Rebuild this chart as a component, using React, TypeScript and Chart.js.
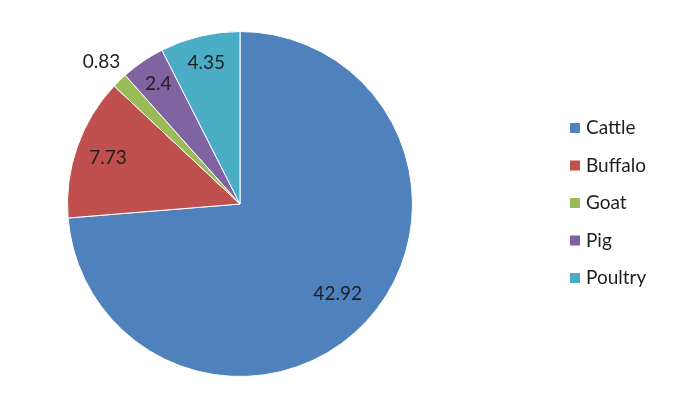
import React, { useEffect, useRef } from "react";
import { Chart, registerables } from "chart.js";

Chart.register(...registerables);

const categories = ["Cattle", "Buffalo", "Goat", "Pig", "Poultry"];
const values = [42.92, 7.73, 0.83, 2.4, 4.35];
const colors = ["#4F81BD", "#C0504D", "#9BBB59", "#8064A2", "#4BACC6"];

const FONT = "Lato, 'Open Sans', sans-serif";
const TEXT_COLOR = "#1f1f1f";

const labelPlugin = {
  id: "sliceLabels",
  afterDatasetsDraw(chart: any) {
    const ctx = chart.ctx;
    const meta = chart.getDatasetMeta(0);
    const data = chart.data.datasets[0].data as number[];
    const total = data.reduce((a, b) => a + b, 0);
    ctx.save();
    ctx.font = `19px ${FONT}`;
    ctx.fillStyle = TEXT_COLOR;
    ctx.textAlign = "center";
    ctx.textBaseline = "middle";
    meta.data.forEach((arc: any, i: number) => {
      const { x, y, startAngle, endAngle, outerRadius } = arc.getProps(
        ["x", "y", "startAngle", "endAngle", "outerRadius"],
        true
      );
      const mid = (startAngle + endAngle) / 2;
      const frac = data[i] / total;
      let f = 0.81;
      if (frac < 0.02) f = 1.15;
      else if (frac > 0.5) f = 0.77;
      else if (frac < 0.1) f = 0.84;
      const r = outerRadius * f;
      ctx.fillText(String(data[i]), x + Math.cos(mid) * r, y + Math.sin(mid) * r);
    });
    ctx.restore();
  },
};

const legendPlugin = {
  id: "customLegend",
  afterDraw(chart: any) {
    const ctx = chart.ctx;
    const labels = chart.data.labels as string[];
    const bg = chart.data.datasets[0].backgroundColor as string[];
    const x0 = 570;
    const y0 = 128;
    const step = 37.5;
    ctx.save();
    ctx.font = `19px ${FONT}`;
    ctx.textAlign = "left";
    ctx.textBaseline = "middle";
    labels.forEach((lab, i) => {
      const yy = y0 + i * step;
      ctx.fillStyle = bg[i];
      ctx.fillRect(x0, yy - 5, 10, 10);
      ctx.fillStyle = TEXT_COLOR;
      ctx.fillText(lab, x0 + 16, yy);
    });
    ctx.restore();
  },
};

export default function App() {
  const ref = useRef<HTMLCanvasElement>(null);
  useEffect(() => {
    if (!ref.current) return;
    const chart = new Chart(ref.current, {
      type: "pie",
      data: {
        labels: categories,
        datasets: [
          {
            data: values,
            backgroundColor: colors,
            borderColor: "#ffffff",
            borderWidth: 1,
            hoverOffset: 0,
            offset: 0,
          },
        ],
      },
      options: {
        responsive: false,
        animation: false,
        layout: { padding: { left: 67, top: 31, right: 261, bottom: 37 } },
        plugins: {
          legend: { display: false },
          tooltip: { enabled: false },
        },
      },
      plugins: [labelPlugin, legendPlugin],
    });
    return () => chart.destroy();
  }, []);
  return (
    <div style={{ position: "fixed", left: 0, top: 0, width: 674, height: 414, background: "#fff" }}>
      <canvas ref={ref} width={674} height={414} style={{ width: 674, height: 414 }} />
    </div>
  );
}
